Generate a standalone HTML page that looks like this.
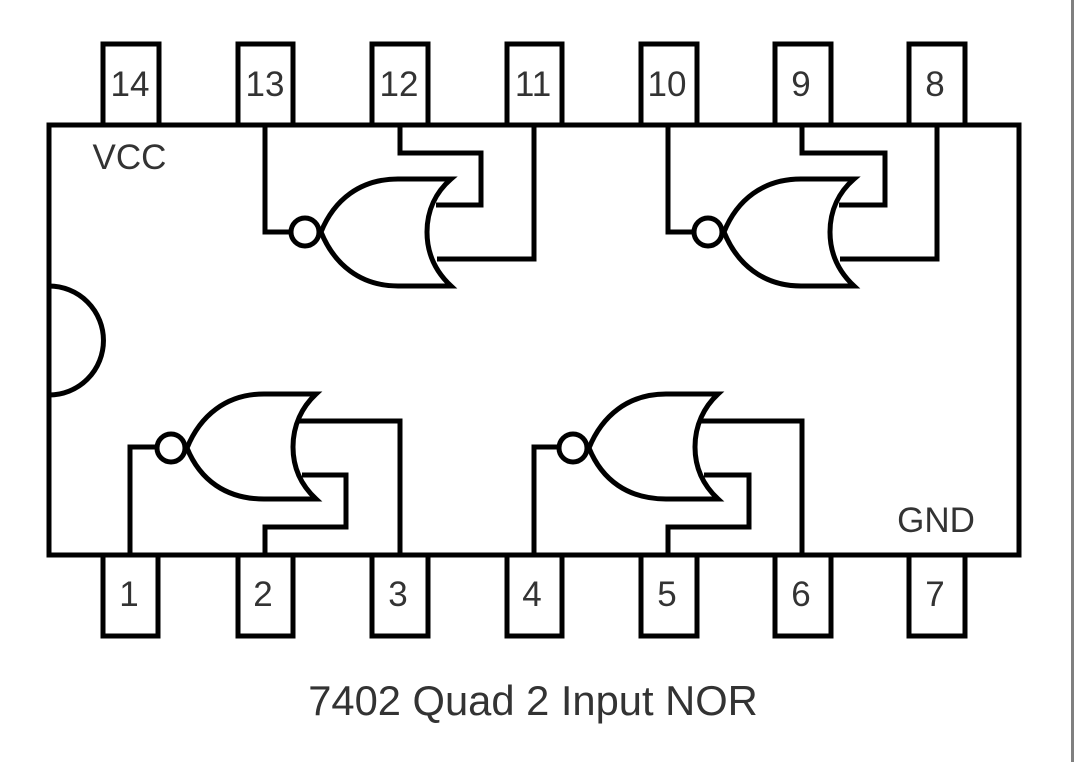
<!DOCTYPE html>
<html>
<head>
<meta charset="utf-8">
<style>
html,body{margin:0;padding:0;background:#fff;width:1074px;height:762px;overflow:hidden}
svg{display:block}
text{font-family:"Liberation Sans",sans-serif;fill:#333;text-anchor:middle}
.s{fill:none;stroke:#000;stroke-width:5;stroke-linejoin:miter}
.g{fill:#fff;stroke:#000;stroke-width:5;stroke-linejoin:miter;stroke-miterlimit:3}
</style>
</head>
<body>
<svg width="1074" height="762" viewBox="0 0 1074 762" xmlns="http://www.w3.org/2000/svg">
<rect width="1074" height="762" fill="#fff"/>
<rect x="1071" y="0" width="3" height="762" fill="#808080"/>

<!-- pins -->
<g class="s">
<rect x="103" y="44" width="56" height="81"/>
<rect x="238" y="44" width="55" height="81"/>
<rect x="372" y="44" width="56" height="81"/>
<rect x="507" y="44" width="55" height="81"/>
<rect x="641" y="44" width="56" height="81"/>
<rect x="775" y="44" width="56" height="81"/>
<rect x="909" y="44" width="56" height="81"/>
<rect x="103" y="555" width="55" height="81"/>
<rect x="238" y="555" width="55" height="81"/>
<rect x="372" y="555" width="56" height="81"/>
<rect x="507" y="555" width="55" height="81"/>
<rect x="641" y="555" width="56" height="81"/>
<rect x="775" y="555" width="56" height="81"/>
<rect x="909" y="555" width="56" height="81"/>
<!-- body -->
<rect x="49" y="125" width="970" height="430"/>
<path d="M49 286 A54.500 54.500 0 0 1 49 395"/>
<!-- wires -->
<path d="M265 125V232H292"/>
<path d="M400 125V153H481V205H436"/>
<path d="M534 125V259H437"/>
<path d="M668 125V232H695"/>
<path d="M802 125V153H885V205H839"/>
<path d="M937 125V259H840"/>
<path d="M130 555V447H158"/>
<path d="M265 555V527H346V475H302"/>
<path d="M400 555V421H298"/>
<path d="M534 555V447H560"/>
<path d="M668 555V527H749V475H704"/>
<path d="M802 555V421H700"/>
</g>

<!-- gates -->
<g class="g">
<path d="M321 232C334 200 360 179 398 179H451C436 192 427 210 427 232C427 254 436 272 451 286H398C360 286 334 264 321 232Z"/>
<circle cx="305" cy="232" r="14"/>
<path d="M724 232C737 200 763 179 801 179H854C839 192 830 210 830 232C830 254 839 272 854 286H801C763 286 737 264 724 232Z"/>
<circle cx="708" cy="232" r="14"/>
<path d="M187 448C200 416 226 394 264 394H316C302 407 293 425 293 447C293 469 302 486 316 499H264C226 499 200 480 187 448Z"/>
<circle cx="171" cy="448" r="14"/>
<path d="M589 448C602 416 628 394 666 394H718C704 407 695 425 695 447C695 469 704 486 718 499H666C628 499 602 480 589 448Z"/>
<circle cx="573" cy="448" r="14"/>
</g>

<!-- labels -->
<g font-size="35">
<text x="130" y="96">14</text>
<text x="265" y="96">13</text>
<text x="399" y="96">12</text>
<text x="533" y="96">11</text>
<text x="667" y="96">10</text>
<text x="801" y="96">9</text>
<text x="935" y="96">8</text>
<text x="129" y="606">1</text>
<text x="263" y="606">2</text>
<text x="398" y="606">3</text>
<text x="532" y="606">4</text>
<text x="667" y="606">5</text>
<text x="801" y="606">6</text>
<text x="935" y="606">7</text>
<text x="129.500" y="169">VCC</text>
<text x="936" y="532">GND</text>
</g>
<text x="533" y="715" font-size="41.700">7402 Quad 2 Input NOR</text>
</svg>
</body>
</html>
